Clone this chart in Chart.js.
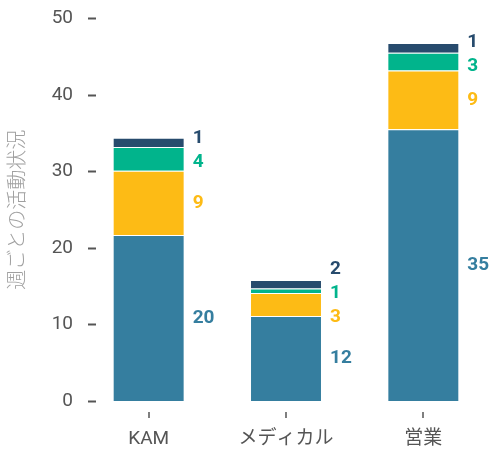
<!DOCTYPE html>
<html>
<head>
<meta charset="utf-8">
<script src="https://cdn.jsdelivr.net/npm/chart.js@4"></script>
<style>
  body { margin: 0; background: #fff; }
  #wrap { width: 492px; height: 452px; }
</style>
</head>
<body>
<div id="wrap"><canvas id="chart"></canvas></div>
<script>
const categories = ["KAM", "メディカル", "営業"];
const blueValues = [21.7, 11.1, 35.5];
const yellowValues = [8.4, 3.0, 7.7];
const greenValues = [3.1, 0.6, 2.3];
const darkValues = [1.2, 1.1, 1.3];
const blueLabels = ["20", "12", "35"];
const yellowLabels = ["9", "3", "9"];
const greenLabels = ["4", "1", "3"];
const darkLabels = ["1", "2", "1"];
const yTicks = [0, 10, 20, 30, 40, 50];

const FONT = "Roboto, 'Noto Sans CJK JP', sans-serif";

// tick marks + value labels next to each stack
const extras = {
    id: "extras",
    afterDatasetsDraw(chart) {
        const ctx = chart.ctx;
        const area = chart.chartArea;
        const x = chart.scales.x, y = chart.scales.y;
        ctx.save();
        ctx.strokeStyle = "#555";
        ctx.lineWidth = 2;
        yTicks.forEach(v => {
            const py = Math.round(y.getPixelForValue(v)) + 0.5;
            ctx.beginPath();
            ctx.moveTo(area.left + 8, py);
            ctx.lineTo(area.left + 16, py);
            ctx.stroke();
        });
        ctx.lineWidth = 1.5;
        categories.forEach((c, i) => {
            const px = Math.round(x.getPixelForValue(i));
            ctx.beginPath();
            ctx.moveTo(px, area.bottom + 11);
            ctx.lineTo(px, area.bottom + 17);
            ctx.stroke();
        });

        ctx.font = "bold 19px " + FONT;
        ctx.textBaseline = "middle";
        ctx.textAlign = "left";
        categories.forEach((c, i) => {
            const items = [];
            chart.data.datasets.forEach((ds, di) => {
                const bar = chart.getDatasetMeta(di).data[i];
                const top = bar.y, bottom = bar.base;
                items.push({ y: (top + bottom) / 2, text: ds.valueLabels[i], color: ds.backgroundColor, x: bar.x + bar.width / 2 + 8, fixed: di === 0 });
            });
            // spread the small labels so they don't overlap
            const free = items.filter(it => !it.fixed).sort((a, b) => a.y - b.y);
            let clusters = free.map(it => ({ items: [it], center: it.y }));
            const gap = 24;
            let merged = true;
            while (merged) {
                merged = false;
                for (let k = 0; k < clusters.length - 1; k++) {
                    const a = clusters[k], b = clusters[k + 1];
                    const aEnd = a.center + (a.items.length - 1) * gap / 2;
                    const bStart = b.center - (b.items.length - 1) * gap / 2;
                    if (bStart - aEnd < gap) {
                        const all = a.items.concat(b.items);
                        const mean = all.reduce((s, it) => s + it.y, 0) / all.length;
                        clusters.splice(k, 2, { items: all, center: mean });
                        merged = true;
                        break;
                    }
                }
            }
            clusters.forEach(cl => {
                cl.items.forEach((it, k) => {
                    it.y = cl.center + (k - (cl.items.length - 1) / 2) * gap;
                });
            });
            items.forEach(it => {
                ctx.fillStyle = it.color;
                ctx.fillText(it.text, it.x, it.y);
            });
        });
        ctx.restore();
    }
};

new Chart(document.getElementById("chart"), {
    type: "bar",
    data: {
        labels: categories,
        datasets: [
            { data: blueValues, valueLabels: blueLabels, backgroundColor: "#357e9f" },
            { data: yellowValues, valueLabels: yellowLabels, backgroundColor: "#fdbb15" },
            { data: greenValues, valueLabels: greenLabels, backgroundColor: "#01b48c" },
            { data: darkValues, valueLabels: darkLabels, backgroundColor: "#274b6d" }
        ]
    },
    options: {
        responsive: true,
        maintainAspectRatio: false,
        animation: false,
        layout: { padding: { top: 17, right: 0, bottom: 0, left: 0 } },
        datasets: {
            bar: {
                barPercentage: 0.524,
                categoryPercentage: 1,
                borderWidth: 1,
                borderColor: "rgba(255,255,255,0.7)",
                borderSkipped: "start"
            }
        },
        plugins: {
            legend: { display: false },
            tooltip: { enabled: false }
        },
        scales: {
            x: {
                stacked: true,
                grid: { display: false, drawTicks: false },
                border: { display: false },
                ticks: { color: "#555", padding: 27, font: { family: FONT, size: 19 } },
                afterFit: s => { s.height = 51; }
            },
            y: {
                stacked: true,
                min: 0,
                max: 50,
                grid: { display: false, drawTicks: false },
                border: { display: false },
                ticks: { stepSize: 10, color: "#555", padding: 7, font: { family: FONT, size: 19 } },
                title: {
                    display: true,
                    text: "週ごとの活動状況",
                    color: "#a0a0a0",
                    padding: { top: 7, bottom: 0 },
                    font: { family: FONT, size: 20, weight: "300" }
                },
                afterFit: s => { s.width = 80; }
            }
        }
    },
    plugins: [extras]
});
</script>
</body>
</html>
